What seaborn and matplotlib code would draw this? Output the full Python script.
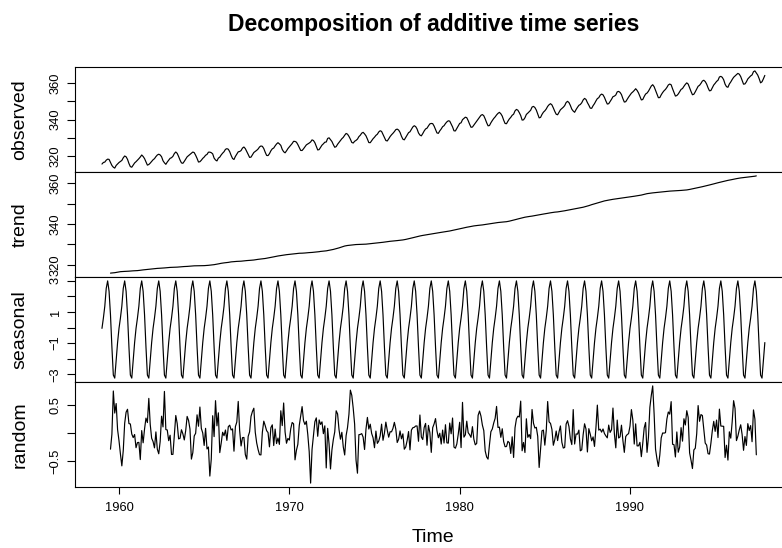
import numpy as np
import pandas as pd
import matplotlib
matplotlib.use("Agg")
import matplotlib.pyplot as plt
import seaborn as sns
from matplotlib.ticker import MultipleLocator, FuncFormatter

# ---- data: monthly CO2 (ppm), Mauna Loa, Jan 1959 - Dec 1997 ----
start_year = 1959
frequency = 12
co2 = [
    315.42, 316.31, 316.50, 317.56, 318.13, 318.00, 316.39, 314.65, 313.68, 313.18, 314.66, 315.43,
    316.27, 316.81, 317.42, 318.87, 319.87, 319.43, 318.01, 315.74, 314.00, 313.68, 314.84, 316.03,
    316.73, 317.54, 318.38, 319.31, 320.42, 319.61, 318.42, 316.63, 314.83, 315.16, 315.94, 316.85,
    317.78, 318.40, 319.53, 320.42, 320.85, 320.45, 319.45, 317.25, 316.11, 315.27, 316.53, 317.53,
    318.58, 318.92, 319.70, 321.22, 322.08, 321.31, 319.58, 317.61, 316.05, 315.83, 316.91, 318.20,
    319.41, 320.07, 320.74, 321.40, 322.06, 321.73, 320.27, 318.54, 316.54, 316.71, 317.53, 318.55,
    319.27, 320.28, 320.73, 321.97, 322.00, 321.71, 321.05, 318.71, 317.66, 317.14, 318.70, 319.25,
    320.46, 321.43, 322.23, 323.54, 323.91, 323.59, 322.24, 320.20, 318.48, 317.94, 319.63, 320.87,
    322.17, 322.34, 322.88, 324.25, 324.83, 323.93, 322.38, 320.76, 319.10, 319.24, 320.56, 321.80,
    322.40, 322.99, 323.73, 324.86, 325.40, 325.20, 323.98, 321.95, 320.18, 320.09, 321.16, 322.74,
    323.83, 324.26, 325.47, 326.50, 327.21, 326.54, 325.72, 323.50, 322.22, 321.62, 322.69, 323.95,
    324.89, 325.82, 326.77, 327.97, 327.91, 327.50, 326.18, 324.53, 322.93, 322.90, 323.85, 324.96,
    326.01, 326.51, 327.01, 327.62, 328.76, 328.40, 327.20, 325.27, 323.20, 323.40, 324.63, 325.85,
    326.60, 327.47, 327.58, 329.56, 329.90, 328.92, 327.88, 326.16, 324.68, 325.04, 326.34, 327.39,
    328.37, 329.40, 330.14, 331.33, 332.31, 331.90, 330.70, 329.15, 327.35, 327.02, 327.99, 328.48,
    329.18, 330.55, 331.32, 332.48, 332.92, 332.08, 331.01, 329.23, 327.27, 327.21, 328.29, 329.41,
    330.23, 331.25, 331.87, 333.14, 333.80, 333.43, 331.73, 329.90, 328.40, 328.17, 329.32, 330.59,
    331.58, 332.39, 333.33, 334.41, 334.71, 334.17, 332.89, 330.77, 329.14, 328.78, 330.14, 331.52,
    332.75, 333.24, 334.53, 335.90, 336.57, 336.10, 334.76, 332.59, 331.42, 330.98, 332.24, 333.68,
    334.80, 335.22, 336.47, 337.59, 337.84, 337.72, 336.37, 334.51, 332.60, 332.38, 333.75, 334.78,
    336.05, 336.59, 337.79, 338.71, 339.30, 339.12, 337.56, 335.92, 333.75, 333.70, 335.12, 336.56,
    337.84, 338.19, 339.91, 340.60, 341.29, 341.00, 339.39, 337.43, 335.72, 335.84, 336.93, 338.04,
    339.06, 340.30, 341.21, 342.33, 342.74, 342.08, 340.32, 338.26, 336.52, 336.68, 338.19, 339.44,
    340.57, 341.44, 342.53, 343.39, 343.96, 343.18, 341.88, 339.65, 337.81, 337.69, 339.09, 340.32,
    341.20, 342.35, 342.93, 344.77, 345.58, 345.14, 343.81, 342.21, 339.69, 339.82, 340.98, 342.82,
    343.52, 344.33, 345.11, 346.88, 347.25, 346.62, 345.22, 343.11, 340.90, 341.18, 342.80, 344.04,
    344.79, 345.82, 347.25, 348.17, 348.74, 348.07, 346.38, 344.51, 342.92, 342.62, 344.06, 345.38,
    346.11, 346.78, 347.68, 349.37, 350.03, 349.37, 347.76, 345.73, 344.68, 343.99, 345.48, 346.72,
    347.84, 348.29, 349.23, 350.80, 351.66, 351.07, 349.33, 347.92, 346.27, 346.18, 347.64, 348.78,
    350.25, 351.54, 352.05, 353.41, 354.04, 353.62, 352.22, 350.27, 348.55, 348.72, 349.91, 351.18,
    352.60, 352.92, 353.53, 355.26, 355.52, 354.97, 353.75, 351.52, 349.64, 349.83, 351.14, 352.37,
    353.50, 354.55, 355.23, 356.04, 357.00, 356.07, 354.67, 352.76, 350.82, 351.04, 352.69, 354.07,
    354.59, 355.63, 357.03, 358.48, 359.22, 358.12, 356.06, 353.92, 352.05, 352.11, 353.64, 354.89,
    355.88, 356.63, 357.72, 359.07, 359.58, 359.17, 356.94, 354.92, 352.94, 353.23, 354.09, 355.33,
    356.63, 357.10, 358.32, 359.41, 360.23, 359.55, 357.53, 355.48, 353.67, 353.95, 355.30, 356.78,
    358.34, 358.89, 359.95, 361.25, 361.67, 360.94, 359.55, 357.49, 355.84, 356.00, 357.59, 359.05,
    359.98, 361.03, 361.66, 363.48, 363.82, 363.30, 361.94, 359.50, 358.11, 357.80, 359.61, 360.74,
    362.09, 363.29, 364.06, 364.76, 365.45, 365.01, 363.70, 361.54, 359.51, 359.65, 360.80, 362.38,
    363.23, 364.06, 364.61, 366.40, 366.84, 365.68, 364.52, 362.57, 360.24, 360.83, 362.49, 364.34,
]
panel_names = ["observed", "trend", "seasonal", "random"]
x_ticks = [1960, 1970, 1980, 1990]
title = "Decomposition of additive time series"

# ---- classical additive decomposition (moving-average trend) ----
obs = np.array(co2, dtype=float)
n = len(obs)
time = start_year + np.arange(n) / frequency
half = frequency // 2
filt = np.r_[0.5, np.ones(frequency - 1), 0.5] / frequency
trend = np.full(n, np.nan)
for i in range(half, n - half):
    trend[i] = np.dot(filt, obs[i - half:i + half + 1])
detrended = obs - trend
month = np.arange(n) % frequency
figure = np.array([np.nanmean(detrended[month == m]) for m in range(frequency)])
figure -= figure.mean()
seasonal = figure[month]
random = obs - trend - seasonal
components = [obs, trend, seasonal, random]

# ---- styling ----
sns.set_style("ticks")
plt.rcParams["font.family"] = ["Liberation Sans", "DejaVu Sans"]
plt.rcParams["axes.linewidth"] = 0.8
plt.rcParams["text.color"] = "black"
plt.rcParams["axes.labelcolor"] = "black"
plt.rcParams["xtick.color"] = "black"
plt.rcParams["ytick.color"] = "black"

W, H = 782, 548
fig = plt.figure(figsize=(W / 100, H / 100), dpi=100)

t0, t1 = time[0], time[-1]
xpad = (t1 - t0) * 0.04
xlim = (t0 - xpad, t1 + xpad)
px_per_year = 17.033
left_px = 119 - (1960 - xlim[0]) * px_per_year
width_px = (xlim[1] - xlim[0]) * px_per_year
tops = [67, 172, 277, 382]
panel_h = 105

major = [10, 10, 1, 0.5]
labelled = [
    lambda v: abs(v % 20) < 1e-6,
    lambda v: abs(v % 20) < 1e-6,
    lambda v: abs(round(v)) % 2 == 1,
    lambda v: abs(v) > 1e-6,
]

def fmt_num(v):
    s = ("%g" % v)
    return s.replace("-", "\u2212")

axes = []
for k, (name, vals) in enumerate(zip(panel_names, components)):
    top = tops[k]
    ax = fig.add_axes([left_px / W, 1 - (top + panel_h) / H, width_px / W, panel_h / H])
    axes.append(ax)
    mask = ~np.isnan(vals)
    df = pd.DataFrame({"Time": time[mask], name: vals[mask]})
    sns.lineplot(data=df, x="Time", y=name, ax=ax, color="black",
                 linewidth=0.85, estimator=None)
    ax.set_xlim(*xlim)
    lo, hi = np.nanmin(vals), np.nanmax(vals)
    ypad = (hi - lo) * 0.04
    ax.set_ylim(lo - ypad, hi + ypad)
    ax.yaxis.set_major_locator(MultipleLocator(major[k]))
    test = labelled[k]
    ax.yaxis.set_major_formatter(FuncFormatter(lambda v, p, test=test: fmt_num(v) if test(v) else ""))
    ax.tick_params(axis="y", direction="out", length=5.5, width=0.8, pad=4.5,
                   labelsize=9.3, labelrotation=90, colors="black")
    for lab in ax.get_yticklabels():
        lab.set_verticalalignment("center")
    ax.set_ylabel(name, fontsize=14, color="black")
    ax.yaxis.set_label_coords((20 - left_px) / width_px, 0.5)
    ax.yaxis.label.set_verticalalignment("center")
    for sp in ax.spines.values():
        sp.set_visible(True)
        sp.set_color("black")
        sp.set_linewidth(0.8)
    if k < 3:
        ax.tick_params(axis="x", bottom=False, labelbottom=False)
        ax.set_xlabel("")
    else:
        ax.set_xticks(x_ticks)
        ax.set_xticklabels([str(v) for v in x_ticks])
        ax.tick_params(axis="x", direction="out", length=5, width=0.8, pad=6,
                       labelsize=9.3, colors="black")
        ax.set_xlabel("Time", fontsize=14, color="black")
        ax.xaxis.set_label_coords(0.5, -(537 - 487) / panel_h)
        ax.xaxis.label.set_verticalalignment("center")

fig.suptitle(title, x=(left_px + 358) / W, y=1 - 24 / H, va="center",
             fontsize=16.5, fontweight="bold", color="black")

fig.savefig("out.png", dpi=100)
